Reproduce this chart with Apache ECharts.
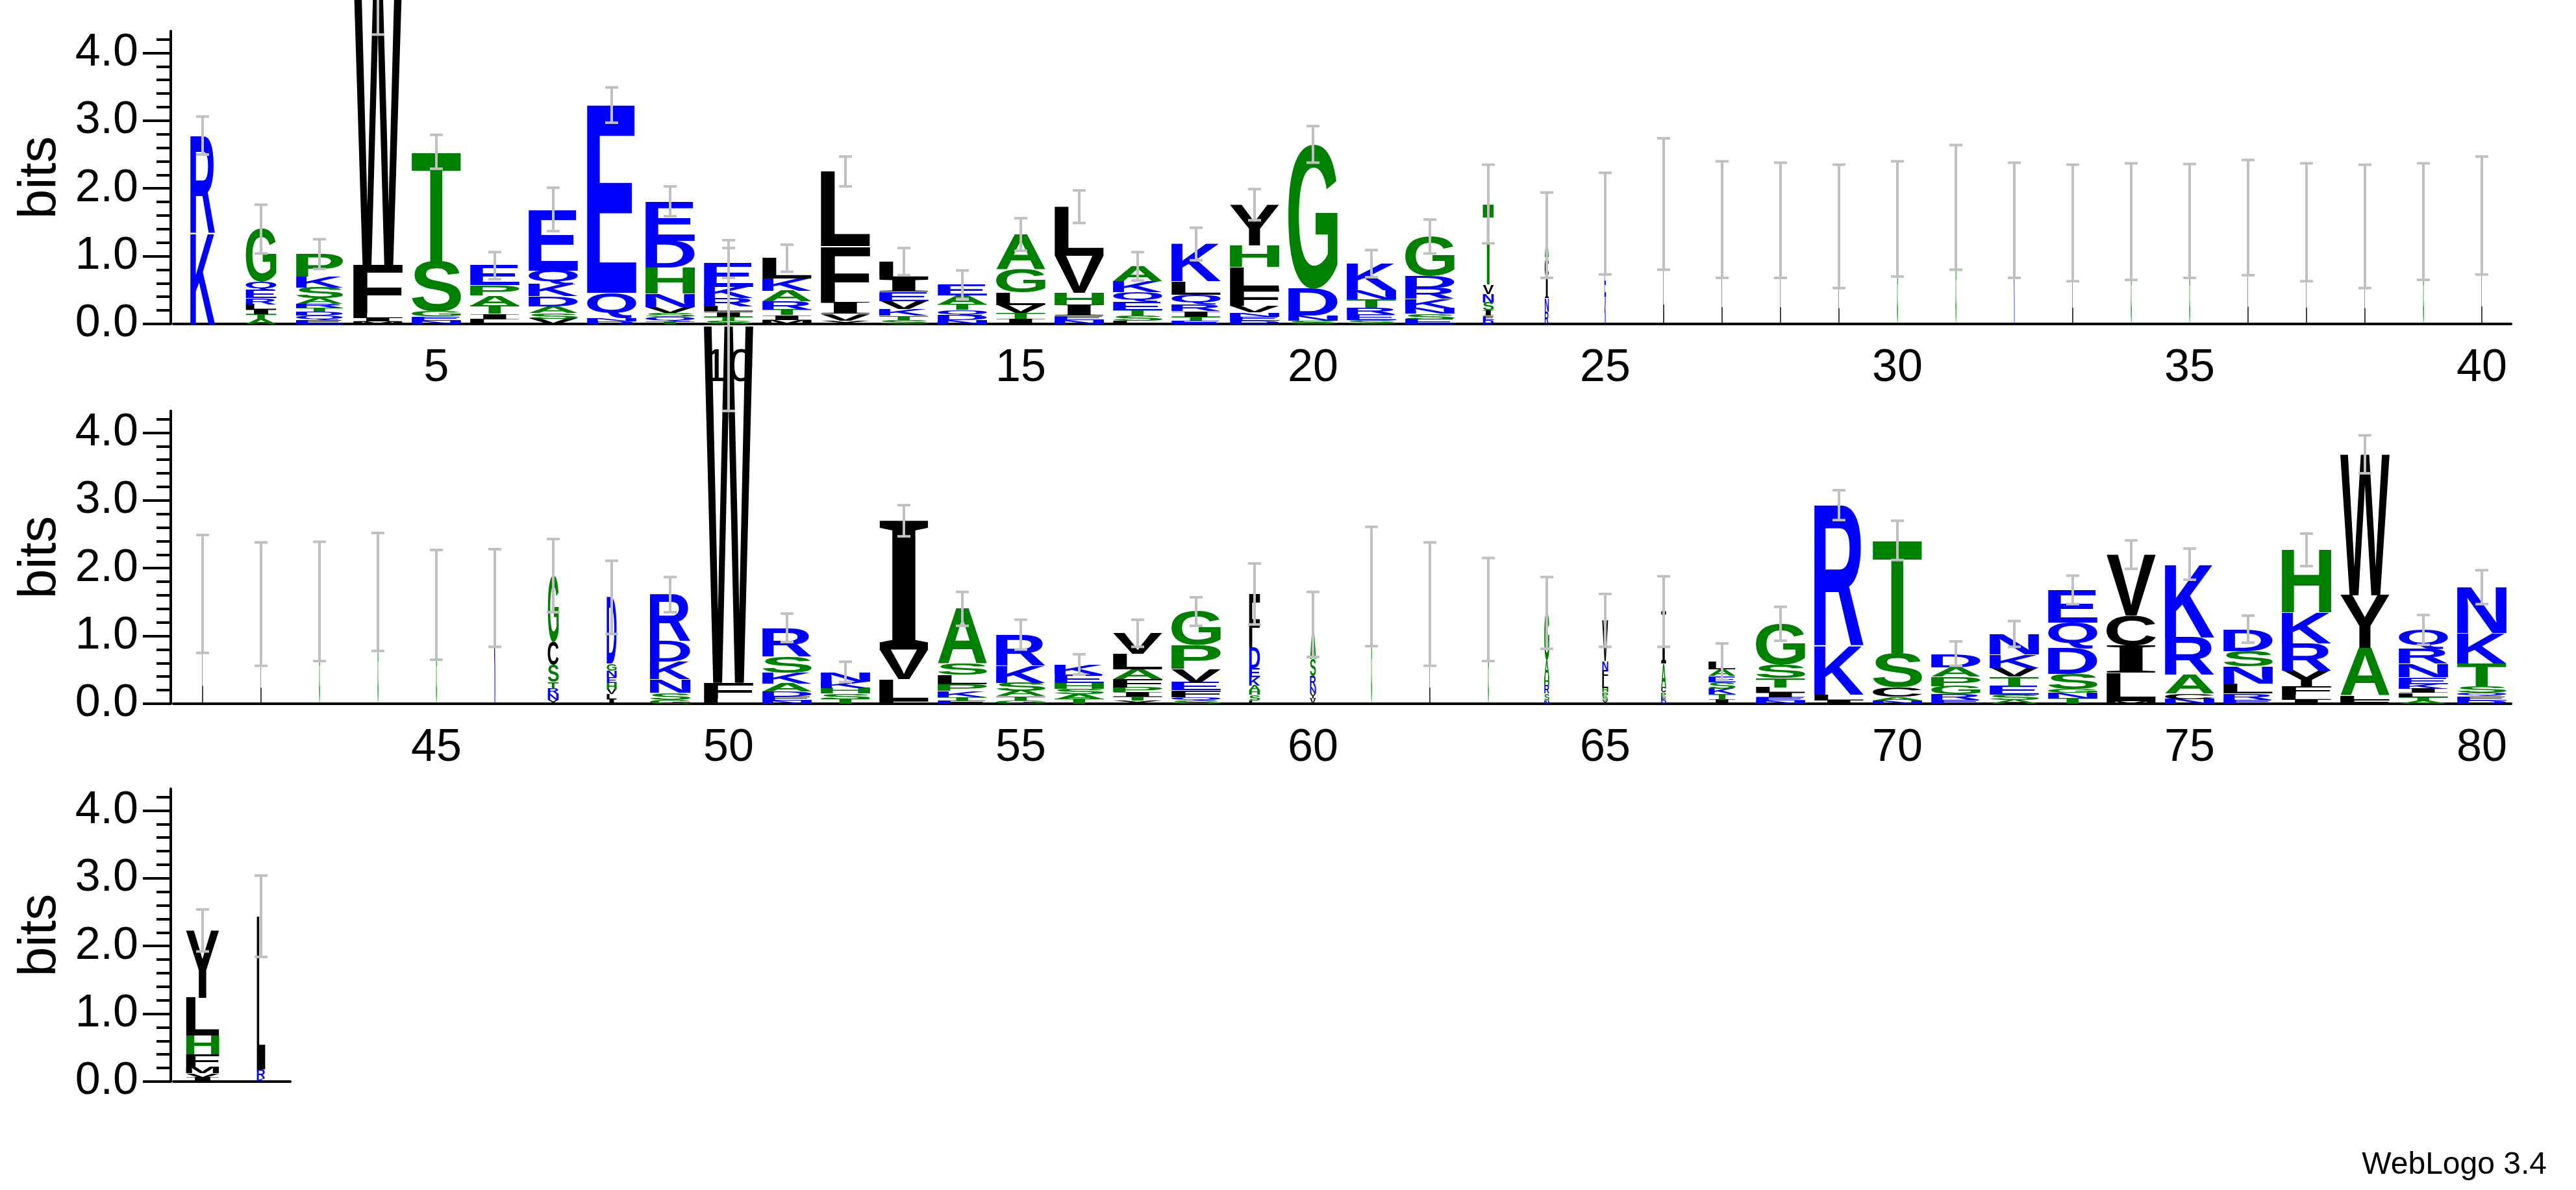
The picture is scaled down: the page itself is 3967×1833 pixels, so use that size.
<!DOCTYPE html>
<html>
<head>
<meta charset="utf-8">
<script src="https://cdn.jsdelivr.net/npm/echarts@6/dist/echarts.min.js"></script>
<style>
html,body{margin:0;padding:0;background:#fff;}
#main{width:3967px;height:1833px;}
</style>
</head>
<body>
<div id="main"></div>
<script>
// sequence positions (1..82)
var positions = [];
for (var p = 1; p <= 82; p++) positions.push(String(p));

// letter stacks, bottom to top, letter + height in bits
var stacks = [
  'K1.34 R1.44', 'A.07 T.07 I.07 L.08 R.09 E.12 Q.12 G.78', 'E.06 Q.06 D.06 T.06 R.06 A.08 S.16 K.16 P.33',
  'M.04 I.05 L.07 F.71 W4.4', 'N.05 E.06 G.07 S.74 T1.62', 'L.07 I.08 T.12 A.15 P.15 E.29',
  'V.08 S.08 A.10 D.15 K.18 Q.20 E.90', 'R.04 N.05 Q.37 E2.77', 'T.04 Q.06 S.06 V.09 N.2 H.38 D.40 E.58',
  'S.05 T.06 I.07 L.08 R.12 K.17 E.35', 'M.06 I.07 T.08 R.12 A.16 K.18 L.30', 'Y.05 V.1 I.17 F.83 L1.1',
  'S.06 T.06 K.1 V.12 E.14 I.18 L.26', 'N.06 D.07 Q.08 T.08 A.13 E.16', 'I.08 T.08 V.12 L.18 G.34 A.52',
  'N.06 E.06 I.16 H.18 V.55 L.72', 'L.05 S.07 T.08 E.12 Q.15 K.16 A.22', 'E.05 T.06 I.08 R.10 Q.14 L.20 K.55',
  'D.05 E.06 N.06 V.1 F.25 L.32 H.32 Y.6', 'S.05 N.07 D.4 G2.13', 'S.06 E.08 R.1 T.12 N.14 K.39',
  'E.07 S.08 N.08 K.14 R.16 D.18 G.58', 'D.06 E.06 I.08 S.12 N.12 V.14 T1.19', 'R.18 N.2 I.3 C.3 A.33',
  'K.4 E.4 N.34 D.34', 'L1.77', 'L1.54', 'L1.53', 'L1.44', 'G1.55', 'G1.72', 'K1.53', 'L1.49', 'G1.51',
  'G1.52', 'L1.57', 'L1.50', 'L1.44', 'G1.51', 'L1.60',
  'L1.62', 'L1.47', 'G1.51', 'G1.65', 'G1.46', 'K1.56', 'Y.06 N.08 R.08 T.1 S.25 C.34 G.98',
  'I.07 L.07 V.07 H.1 E.08 N.1 G.1 D.98', 'G.06 S.1 N.2 K.26 D.3 R.69', 'L.08 F.23 W5.27',
  'N.05 E.06 D.07 A.12 K.16 S.24 R.42', 'T.07 S.08 H.08 K.1 N.14', 'F.04 L.32 V.44 I1.9',
  'E.05 T.05 K.09 P.1 L.14 S.16 A.81', 'G.05 T.06 A.08 S.12 K.25 R.46', 'T.07 A.07 S.08 H.09 E.12 K.15',
  'Y.05 T.06 I.06 P.07 F.12 A.15 L.23 V.30', 'S.05 Q.05 F.1 E.12 V.2 P.34 G.5',
  'L.05 S.08 H.07 A.07 K.12 E.14 D.3 F.79', 'V.08 Y.07 N.1 R.16 S.25 A.51', 'G1.73', 'L1.47', 'G1.39',
  'N.05 S.1 R.12 H.12 A.25 G.7', 'Y.05 S.06 P.06 H.06 L.13 F.13 N.14 V.6', 'D.06 E.05 P.06 C.07 A.35 I.77',
  'I.06 T.08 K.08 S.1 E.09 A.1 L.11', 'N.05 E.05 I.06 L.08 T.14 S.2 G.6', 'I.05 L.08 K.72 R2.08',
  'N.05 A.05 C.14 S.5 T1.67', 'E.06 R.08 G.12 P.14 A.14 D.2', 'A.06 S.07 E.13 T.14 V.13 K.2 N.3',
  'T.08 N.08 G.06 S.22 D.38 Q.38 E.48', 'M.04 L.42 I.4 C.44 V.9', 'N.07 C.08 A.28 R.55 K1.08',
  'E.06 R.09 L.15 N.25 S.23 D.32', 'I.06 L.07 F.12 Y.24 R.4 K.46 H.92', 'F.06 L.06 A.7 Y.78 W2.08',
  'A.05 T.05 L.06 I.06 K.07 E.1 N.2 R.22 Q.28', 'D.05 E.06 Q.05 S.1 T.33 K.45 N.68',
  'I.06 V.06 M.1 F.18 H.28 L.56 Y.99', 'K.05 R.13 L2.26'
];

// half-length of the error bar around the stack top (bits)
var errHalf = [
  .28, .36, .22, 1.0, .25, .2, .32, .26, .22, .22, .2, .22, .2, .21, .24, .24, .21, .24, .23, .27,
  .2, .25, .58, .63, .75, .97, .86, .85, .91, .85, .92, .85, .86, .86, .84, .85, .87, .91, .86, .87,
  .87, .91, .88, .87, .81, .72, .54, .54, .26, 1.26, .21, .15, .23, .25, .22, .15, .2, .21, .45, .48,
  .88, .91, .76, .53, .39, .52, .27, .25, .22, .29, .18, .19, .21, .21, .23, .2, .24, .28, .22, .25,
  .31, .6
];

// column width as a fraction of a full column
var widthFrac = [
  .5, .62, .95, 1, 1, 1, 1, 1, 1, 1, 1, 1, 1, 1, 1, 1, 1, 1, 1, 1,
  1, 1, .22, .08, .03, .02, .02, .02, .02, .02, .02, .02, .02, .02, .02, .02, .02, .02, .02, .02,
  .02, .02, .02, .02, .02, .03, .22, .2, .82, 1, 1, 1, 1, 1, 1, 1, 1, 1, .22, .12,
  .02, .02, .02, .1, .12, .1, .55, 1, 1, 1, 1, 1, 1, 1, 1, 1, 1, 1, 1, 1,
  .67, .17
];

var yLabels = [0, 1, 2, 3, 4];
var yMinor = [0.2, 0.4, 0.6, 0.8, 1.2, 1.4, 1.6, 1.8, 2.2, 2.4, 2.6, 2.8, 3.2, 3.4, 3.6, 3.8, 4.2];

var rows = [
  { from: 1, to: 40, top: 48, width: 3600 },
  { from: 41, to: 80, top: 633, width: 3600 },
  { from: 81, to: 82, top: 1215, width: 180 }
];

var colorOf = function (ch) {
  if ('KRDEQN'.indexOf(ch) >= 0) return '#0000ff';
  if ('GSTAPH'.indexOf(ch) >= 0) return '#008000';
  return '#000000';
};

// the logo's I has bars top and bottom, so take it from a serif face
var fontOf = function (ch) {
  return ch === 'I' ? 'bold 200px "Liberation Serif"' : 'bold 200px "Liberation Sans"';
};
var boxCache = {};
var measureCtx = document.createElement('canvas').getContext('2d');
function glyphBox(ch) {
  if (!boxCache[ch]) {
    measureCtx.font = fontOf(ch);
    measureCtx.textBaseline = 'middle';
    measureCtx.textAlign = 'left';
    var m = measureCtx.measureText(ch);
    boxCache[ch] = { l: m.actualBoundingBoxLeft, r: m.actualBoundingBoxRight, a: m.actualBoundingBoxAscent, d: m.actualBoundingBoxDescent };
  }
  return boxCache[ch];
}

function parseStack(s) {
  return s.split(' ').map(function (t) { return [t.charAt(0), parseFloat(t.slice(1))]; });
}

function renderColumn(params, api) {
  var gi = api.value(0), cat = api.value(1);
  var base = api.coord([cat, 0]);
  var cx = base[0], by = base[1];
  var bit = by - api.coord([cat, 1])[1];
  var colw = api.size([1, 0])[0];
  var w = colw * 0.845 * widthFrac[gi];
  var children = [];
  var cum = 0;
  parseStack(stacks[gi]).forEach(function (it) {
    var ch = it[0], h = it[1];
    var b = glyphBox(ch);
    var top = by - (cum + h) * bit;
    var sx = w / (b.l + b.r), sy = (h * bit) / (b.a + b.d);
    children.push({
      type: 'text', silent: true,
      x: cx - w / 2 + b.l * sx, y: top + b.a * sy, scaleX: sx, scaleY: sy,
      style: { text: ch, x: 0, y: 0, font: fontOf(ch), fill: colorOf(ch), align: 'left', verticalAlign: 'middle' }
    });
    cum += h;
  });
  var e = errHalf[gi];
  var y1 = by - (cum + e) * bit, y2 = by - (cum - e) * bit;
  var ebar = { stroke: '#c0c0c0', lineWidth: 4 };
  children.push({ type: 'line', silent: true, shape: { x1: cx, y1: y1, x2: cx, y2: y2 }, style: ebar });
  children.push({ type: 'line', silent: true, shape: { x1: cx - 10, y1: y1, x2: cx + 10, y2: y1 }, style: ebar });
  children.push({ type: 'line', silent: true, shape: { x1: cx - 10, y1: y2, x2: cx + 10, y2: y2 }, style: ebar });
  return { type: 'group', children: children };
}

var grids = [], xAxes = [], yAxes = [], series = [];
rows.forEach(function (r, i) {
  var cats = positions.slice(r.from - 1, r.to);
  grids.push({ left: 267, top: r.top, width: r.width, height: 451 });
  xAxes.push({
    type: 'category', gridIndex: i, data: cats, boundaryGap: true,
    axisLine: { lineStyle: { color: '#000', width: 4 } },
    axisTick: { alignWithLabel: true, interval: 0, length: 11, lineStyle: { width: 4, color: '#000' } },
    axisLabel: {
      interval: 0, margin: 34, fontSize: 70, color: '#000', fontFamily: 'Liberation Sans',
      formatter: function (v) { return (+v) % 5 === 0 ? v : ''; }
    }
  });
  xAxes.push({
    type: 'category', gridIndex: i, data: cats, boundaryGap: true,
    axisLine: { show: false }, axisLabel: { show: false },
    axisTick: { alignWithLabel: true, length: 20, lineStyle: { width: 4, color: '#000' },
      interval: function (idx, v) { return (+v) % 5 === 0; } }
  });
  yAxes.push({
    type: 'value', gridIndex: i, position: 'left', min: 0, max: 4.32, offset: 4, splitLine: { show: false },
    name: 'bits', nameLocation: 'middle', nameGap: 160, nameRotate: 90,
    nameTextStyle: { fontSize: 82, color: '#000', fontFamily: 'Liberation Sans' },
    axisLine: { show: true, lineStyle: { color: '#000', width: 4 } },
    axisTick: { show: true, length: 43, customValues: yLabels, lineStyle: { width: 4, color: '#000' } },
    axisLabel: { customValues: yLabels, margin: 50, fontSize: 70, color: '#000', fontFamily: 'Liberation Sans',
      formatter: function (v) { return v.toFixed(1); } }
  });
  yAxes.push({
    type: 'value', gridIndex: i, position: 'left', min: 0, max: 4.32, offset: 4, splitLine: { show: false },
    axisLine: { show: false }, axisLabel: { show: false },
    axisTick: { show: true, length: 22, customValues: yMinor, lineStyle: { width: 4, color: '#000' } }
  });
  var data = [];
  for (var p = r.from; p <= r.to; p++) data.push([p - 1, p - r.from]);
  series.push({
    type: 'custom', xAxisIndex: 2 * i, yAxisIndex: 2 * i, clip: false,
    renderItem: renderColumn, data: data, animation: false, silent: true
  });
});

var chart = echarts.init(document.getElementById('main'));
chart.setOption({
  backgroundColor: '#fff',
  animation: false,
  grid: grids,
  xAxis: xAxes,
  yAxis: yAxes,
  series: series,
  graphic: [{
    type: 'text', right: 45, bottom: 14,
    style: { text: 'WebLogo 3.4', fontSize: 48, fill: '#000', fontFamily: 'Liberation Sans' }
  }]
});
</script>
</body>
</html>
